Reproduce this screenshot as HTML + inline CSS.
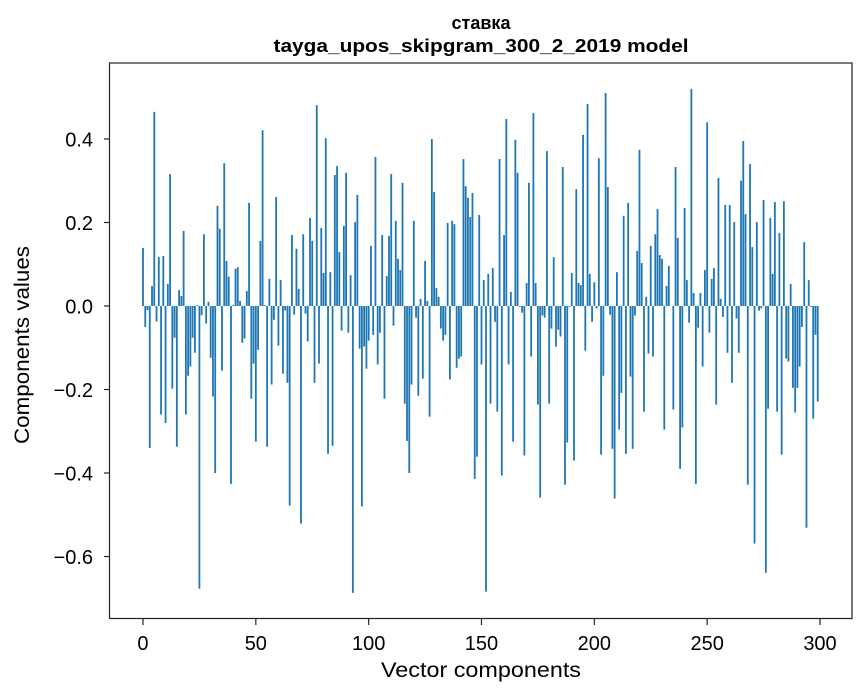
<!DOCTYPE html>
<html><head><meta charset="utf-8"><style>
body{margin:0;background:#fff;}
svg{display:block;font-family:"Liberation Sans","DejaVu Sans",sans-serif;}
</style></head><body>
<svg id="chart" width="867" height="696" viewBox="0 0 867 696" xmlns="http://www.w3.org/2000/svg">
<rect width="867" height="696" fill="#fff"/>
<text x="481" y="29" text-anchor="middle" font-size="18" font-weight="bold">ставка</text>
<text x="481" y="52" text-anchor="middle" font-size="18.5" font-weight="bold" textLength="415" lengthAdjust="spacingAndGlyphs">tayga_upos_skipgram_300_2_2019 model</text>
<g id="bars"></g>
<g id="xticks"></g>
<g id="yticks"></g>
<rect x="109.5" y="63" width="742.5" height="555.5" fill="none" stroke="#222" stroke-width="1.2"/>
<text x="481" y="677" text-anchor="middle" font-size="21" textLength="200" lengthAdjust="spacingAndGlyphs">Vector components</text>
<text transform="translate(29,345) rotate(-90)" text-anchor="middle" font-size="21" textLength="198" lengthAdjust="spacingAndGlyphs">Components values</text>
</svg>
<script>
const values = [0.139,-0.05,-0.01,-0.34,0.048,0.465,-0.037,0.117,-0.26,0.12,-0.28,0.053,0.316,-0.198,-0.076,-0.337,0.038,0.024,0.18,-0.26,
-0.167,-0.145,-0.076,-0.112,0.002,-0.677,-0.022,0.172,-0.042,0.01,-0.124,-0.217,-0.4,0.24,0.185,-0.155,0.342,0.108,0.07,-0.426,
0.002,0.089,0.093,0.012,-0.088,-0.078,0.036,0.247,-0.222,-0.138,-0.325,-0.105,0.156,0.421,0.002,-0.337,0.065,-0.188,-0.033,0.261,
-0.095,0.062,-0.162,-0.011,-0.184,-0.478,0.17,-0.021,0.137,0.041,-0.521,0.172,-0.018,-0.085,0.211,0.156,-0.184,0.481,-0.138,0.187,
0.079,0.402,-0.354,0.081,-0.335,0.314,0.335,0.129,-0.059,0.192,0.319,-0.064,0.074,-0.687,0.201,0.266,-0.102,-0.48,-0.097,-0.15,
-0.083,0.144,-0.069,0.357,-0.14,-0.064,0.17,-0.222,0.072,0.168,0.316,-0.047,0.204,0.113,0.086,0.295,-0.234,-0.323,-0.4,-0.188,
0.204,-0.028,-0.215,0.017,-0.174,0.108,0.012,-0.265,0.4,0.273,0.043,0.022,-0.054,-0.083,-0.069,0.199,-0.176,0.204,0.196,-0.148,
-0.126,-0.121,0.352,0.287,0.259,0.213,0.271,-0.414,-0.361,0.218,-0.14,0.062,-0.684,0.077,-0.234,0.091,-0.038,-0.253,0.352,-0.406,
0.17,0.448,-0.14,0.034,-0.325,0.398,0.319,-0.002,-0.016,-0.358,0.055,0.295,-0.121,0.462,0.055,-0.236,-0.459,-0.023,-0.028,0.371,
-0.234,-0.054,0.117,-0.097,-0.057,-0.073,0.333,-0.428,-0.327,-0.002,0.079,-0.37,0.28,0.055,0.05,0.41,-0.107,0.484,0.077,-0.038,
0.057,-0.006,0.354,-0.356,-0.167,0.51,0.285,-0.021,-0.342,-0.461,0.081,-0.296,-0.208,0.216,-0.354,0.247,-0.169,-0.342,-0.023,0.132,
0.374,0.103,-0.253,0.022,-0.114,0.144,-0.121,0.172,0.232,0.122,0.113,-0.296,0.048,0.096,0.0,-0.248,0.333,0.163,-0.39,-0.291,
0.235,0.062,-0.04,0.52,0.031,-0.426,-0.052,0.031,-0.145,0.086,0.44,-0.064,0.065,0.091,-0.236,0.307,0.017,-0.026,0.242,-0.112,
0.242,-0.184,0.201,-0.03,-0.112,0.3,0.395,0.22,-0.428,0.34,0.141,-0.569,0.201,-0.011,-0.006,0.254,-0.639,-0.246,0.211,0.077,
0.249,-0.253,0.175,-0.356,0.251,-0.126,-0.133,0.053,-0.196,-0.255,-0.196,-0.145,-0.05,0.153,-0.531,0.062,-0.002,-0.27,-0.069,-0.229];
const xTicks = [0,50,100,150,200,250,300];
const yTicks = [-0.6,-0.4,-0.2,0.0,0.2,0.4];
const yTickLabels = ["\u22120.6","\u22120.4","\u22120.2","0.0","0.2","0.4"];

const NS="http://www.w3.org/2000/svg";
const X0=110,X1=852,Y0=63,Y1=619;
const xmin=-14.62,xmax=314.18,ymin=-0.752,ymax=0.582;
function xs(v){return X0+(v-xmin)/(xmax-xmin)*(X1-X0);}
function ys(v){return 620-(v-ymin)/(ymax-ymin)*(620-Y0);}
const bars=document.getElementById('bars');
values.forEach((v,i)=>{
  const r=document.createElementNS(NS,'rect');
  
  
  const xa=xs(i-0.4),xb=xs(i+0.4);
  const ya=ys(Math.max(v,0)),yb=ys(Math.min(v,0));
  r.setAttribute('x',xa);r.setAttribute('width',xb-xa);
  r.setAttribute('y',ya);r.setAttribute('height',Math.max(yb-ya,0.01));
  r.setAttribute('fill','#1f77b4');
  bars.appendChild(r);
});
const xg=document.getElementById('xticks');
xTicks.forEach(t=>{
  const l=document.createElementNS(NS,'line');
  
  
  l.setAttribute('x1',xs(t));l.setAttribute('x2',xs(t));
  l.setAttribute('y1',Y1);l.setAttribute('y2',Y1+6);
  l.setAttribute('stroke','#222');l.setAttribute('stroke-width','1.2');
  xg.appendChild(l);
  const tx=document.createElementNS(NS,'text');
  
  
  tx.setAttribute('x',xs(t));tx.setAttribute('y',650);
  tx.setAttribute('text-anchor','middle');tx.setAttribute('font-size','20');
  tx.textContent=String(t);
  xg.appendChild(tx);
});
const yg=document.getElementById('yticks');
yTicks.forEach((t,k)=>{
  const l=document.createElementNS(NS,'line');
  
  
  l.setAttribute('x1',X0-6);l.setAttribute('x2',X0);
  l.setAttribute('y1',ys(t));l.setAttribute('y2',ys(t));
  l.setAttribute('stroke','#222');l.setAttribute('stroke-width','1.2');
  yg.appendChild(l);
  const tx=document.createElementNS(NS,'text');
  
  
  tx.setAttribute('x',X0-17);tx.setAttribute('y',ys(t)+7.5);
  tx.setAttribute('text-anchor','end');tx.setAttribute('font-size','20');
  tx.textContent=yTickLabels[k];
  yg.appendChild(tx);
});
</script>
</body></html>
